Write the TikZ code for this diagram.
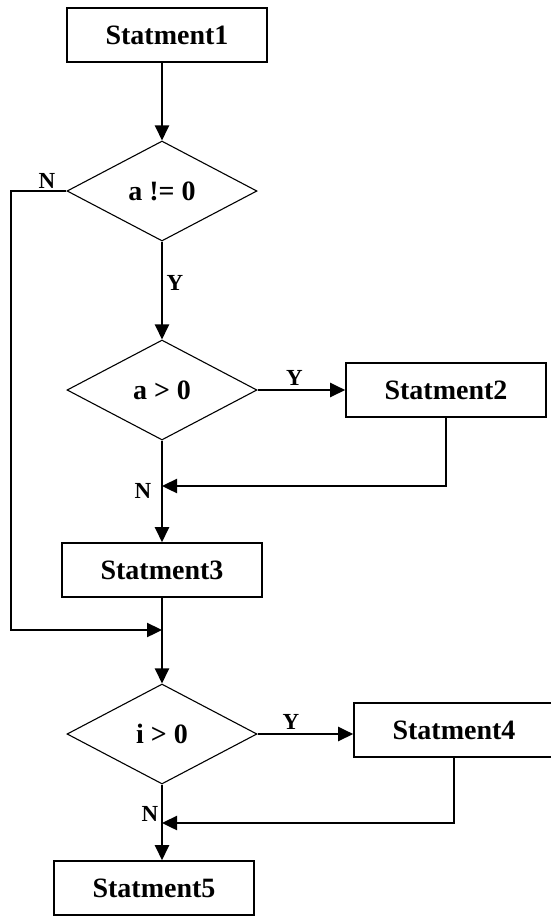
\documentclass[tikz,border=0pt]{standalone}
\usepackage{fontspec}
\setmainfont{Liberation Serif}
\usetikzlibrary{positioning, arrows.meta, shapes.geometric}

\begin{document}
\begin{tikzpicture}[
    x=1pt, y=-1pt,          % 画像のピクセル座標をそのまま使う
    >={Triangle[length=15pt, width=14pt]},  % 塗りつぶしの三角矢じり
    font=\fontsize{28}{32}\selectfont\bfseries,
    box/.style={draw, line width=1.6pt, minimum width=200pt, minimum height=54pt, inner sep=0pt},
    cond/.style={draw, diamond, aspect=1.9, line width=1.1pt, minimum width=190pt, minimum height=100pt, inner sep=0pt},
    flow/.style={line width=2.4pt},
    lbl/.style={font=\fontsize{23}{26}\selectfont\bfseries}
]

    % 画像と同じ余白
    \useasboundingbox (0, 0) rectangle (550, 916);

    % --- 1. 処理ボックスと判定ひし形 ---
    \node [box] (s1) at (167, 35) {Statment1};
    \node [cond] (d1) at (162, 191) {a != 0};
    \node [cond] (d2) at (162, 390) {a > 0};
    \node [box] (s2) at (446, 390) {Statment2};
    \node [box] (s3) at (162, 570) {Statment3};
    \node [cond] (d3) at (162, 734) {i > 0};
    \node [box] (s4) at (454, 730) {Statment4};
    \node [box] (s5) at (154, 888) {Statment5};

    % 合流点と折れ曲がり点
    \coordinate (c1) at (11, 191);
    \coordinate (j1) at (162, 486);
    \coordinate (j2) at (162, 630);
    \coordinate (j3) at (162, 823);

    % --- 2. 縦の流れ ---
    \draw [flow, ->] (d1.north |- s1.south) -- (d1.north);
    \draw [flow, ->] (d1.south) -- (d2.north) node [lbl, pos=0.42, right] (y1) {Y};
    \draw [flow, ->] (d2.south) -- (s3.north);
    \draw [flow] (s3.south) -- (j2);
    \draw [flow, ->] (j2) -- (d3.north);
    \draw [flow, ->] (d3.south) -- (d3.south |- s5.north);

    % --- 3. 分岐と戻り ---
    % a != 0 の N：左側を回って合流
    \draw [flow, ->] (d1.west) -- (c1) |- (j2);
    \node [lbl] (n1) at (47, 181) {N};

    % a > 0 の Y と Statment2 からの戻り
    \draw [flow, ->] (d2.east) -- (s2.west) node [lbl, pos=0.42, above] (y2) {Y};
    \draw [flow, ->] (s2.south) |- (j1);
    \node [lbl] (n2) at (143, 491) {N};

    % i > 0 の Y と Statment4 からの戻り
    \draw [flow, ->] (d3.east) -- (d3.east -| s4.west) node [lbl, pos=0.35, above] (y3) {Y};
    \draw [flow, ->] (s4.south) |- (j3);
    \node [lbl] (n3) at (150, 814) {N};

\end{tikzpicture}
\end{document}
